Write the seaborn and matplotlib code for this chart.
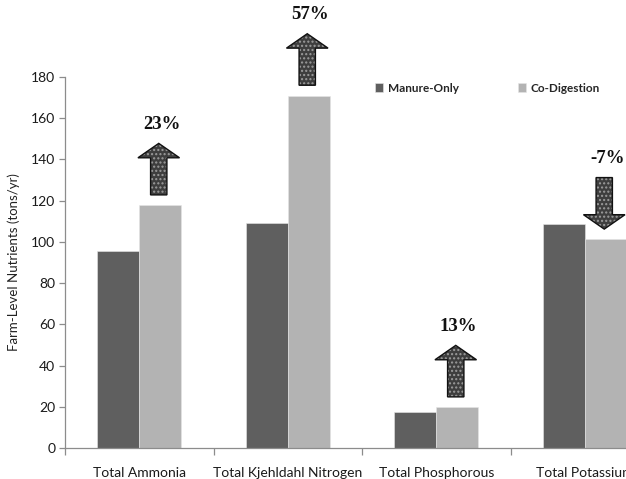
import matplotlib
matplotlib.use("Agg")
import matplotlib.pyplot as plt
from matplotlib.patches import FancyArrow
import seaborn as sns
import pandas as pd
import numpy as np

# Farm-level nutrient loads (tons/yr)
categories = ["Total Ammonia", "Total Kjehldahl Nitrogen", "Total Phosphorous", "Total Potassium"]
manure_only = [95.7, 109.0, 17.5, 108.7]
co_digestion = [117.8, 171.0, 19.8, 101.2]
series_names = ["Manure-Only", "Co-Digestion"]
y_ticks = [0, 20, 40, 60, 80, 100, 120, 140, 160, 180]

df = pd.DataFrame({
    "category": categories * 2,
    "scenario": [series_names[0]] * 4 + [series_names[1]] * 4,
    "value": manure_only + co_digestion,
})

sns.set_style("white")
plt.rcParams["font.family"] = ["Lato", "DejaVu Sans"]

fig = plt.figure(figsize=(6.26, 4.79), dpi=100)
ax = fig.add_axes([65 / 626, 1 - 448 / 479, 594 / 626, 371 / 479])

group_width = 0.565
sns.barplot(data=df, x="category", y="value", hue="scenario", order=categories,
            hue_order=series_names, palette=["#5f5f5f", "#b3b3b3"],
            width=group_width, gap=0, saturation=1, edgecolor="#e6e6e6",
            linewidth=0.4, legend=True, ax=ax)

ax.set_xlim(-0.5, len(categories) - 0.5)
ax.set_ylim(0, 180)
ax.set_yticks(y_ticks)
ax.set_xlabel("")
ax.set_ylabel("Farm-Level Nutrients (tons/yr)", fontsize=9.5, color="#222222", labelpad=8)

for side in ["top", "right"]:
    ax.spines[side].set_visible(False)
for side in ["left", "bottom"]:
    ax.spines[side].set_color("#8c8c8c")
    ax.spines[side].set_linewidth(0.9)

ax.tick_params(axis="y", direction="out", length=4, width=0.9, color="#8c8c8c",
               labelsize=10, labelcolor="#1a1a1a", pad=3, left=True)
ax.tick_params(axis="x", which="major", length=0, labelsize=10, labelcolor="#1a1a1a", pad=13.5)
ax.set_xticks(np.arange(len(categories) + 1) - 0.5, minor=True)
ax.tick_params(axis="x", which="minor", direction="out", length=5, width=0.9,
               color="#8c8c8c", bottom=True)

# Legend across the top of the plot
handles, labels = ax.get_legend_handles_labels()
ax.legend_.remove()
fig.legend(handles, labels, loc="center left", bbox_to_anchor=(364 / 626, 1 - 88 / 479),
           ncol=2, frameon=False, handlelength=0.7, handleheight=0.7, handletextpad=0.4,
           columnspacing=5.0, prop={"size": 8.5, "weight": "bold"})

# Change arrows above the co-digestion bars
bar_w = group_width / 2
arrow_len = 25
gap = 5
for i, (m, c) in enumerate(zip(manure_only, co_digestion)):
    pct = round((c - m) / m * 100)
    x = i + bar_w / 2 - 0.01
    if pct >= 0:
        start, dy = c + gap, arrow_len
    else:
        start, dy = c + gap + arrow_len, -arrow_len
    text_y = c + gap + arrow_len + 5
    shape = dict(width=0.11, head_width=0.28, head_length=7, length_includes_head=True,
                 clip_on=False)
    # dotted fill, then a dark outline on top
    ax.add_patch(FancyArrow(x, start, 0, dy, facecolor="#3e3e3e", edgecolor="#9c9c9c",
                            hatch="....", linewidth=0, zorder=4, **shape))
    ax.add_patch(FancyArrow(x, start, 0, dy, facecolor="none", edgecolor="#111111",
                            linewidth=1.0, zorder=4.5, **shape))
    ax.text(x + 0.02, text_y, f"{pct}%", ha="center", va="bottom",
            fontsize=13.5, fontweight="bold", family=["Liberation Serif", "DejaVu Serif"],
            color="#111111", clip_on=False, zorder=5)

fig.savefig("out.png", dpi=100)
